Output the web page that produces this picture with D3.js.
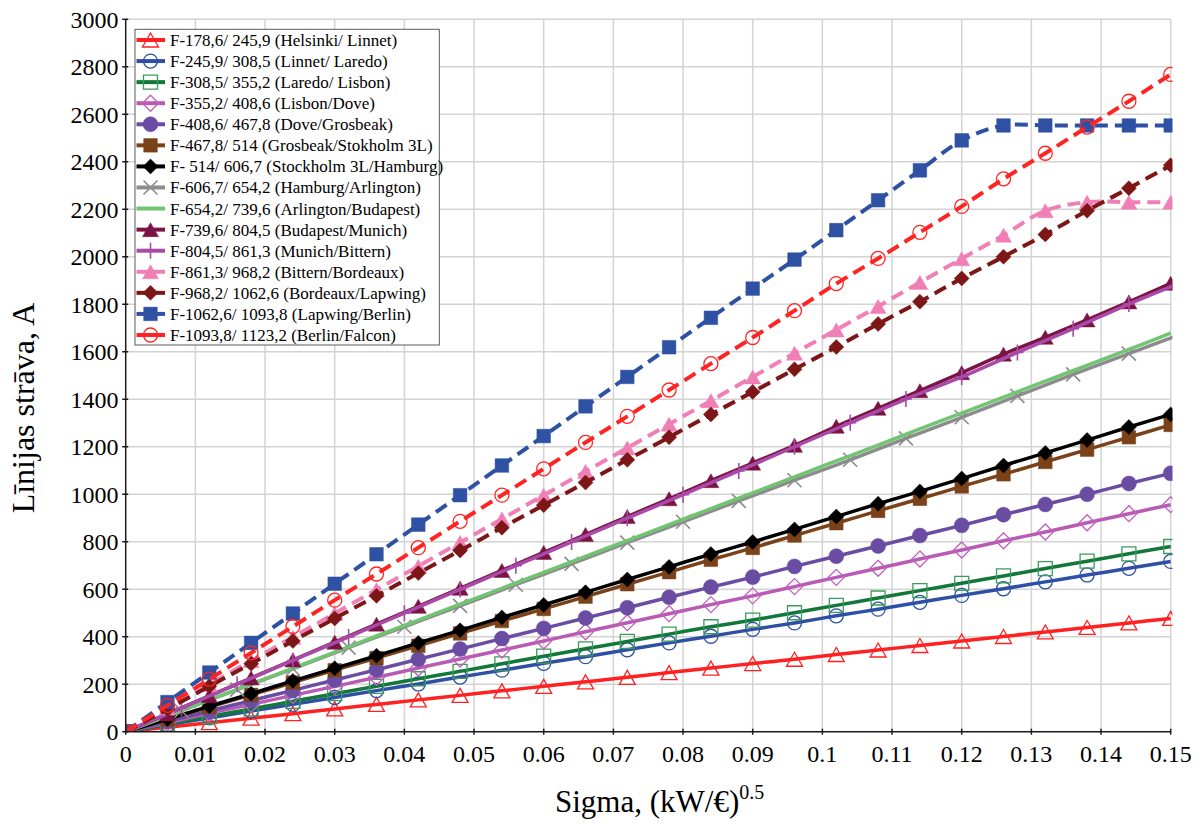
<!DOCTYPE html>
<html><head><meta charset="utf-8">
<script src="https://cdn.jsdelivr.net/npm/d3@7"></script>
<style>
body{margin:0;background:#fff}
svg{display:block}
svg text{font-family:"Liberation Serif",serif;fill:#000}
</style>
</head><body>
<svg id="chart" width="1202" height="824" font-family="Liberation Serif, serif"></svg>
<script>
// ---------------- DATA ----------------
const xTicks = [0,0.01,0.02,0.03,0.04,0.05,0.06,0.07,0.08,0.09,0.1,0.11,0.12,0.13,0.14,0.15];
const yTicks = [0,200,400,600,800,1000,1200,1400,1600,1800,2000,2200,2400,2600,2800,3000];
const xA = [0,0.006,0.012,0.018,0.024,0.03,0.036,0.042,0.048,0.054,0.06,0.066,0.072,0.078,0.084,0.09,0.096,0.102,0.108,0.114,0.12,0.126,0.132,0.138,0.144,0.15];
const xB = [0,0.008,0.016,0.024,0.032,0.04,0.048,0.056,0.064,0.072,0.08,0.088,0.096,0.104,0.112,0.12,0.128,0.136,0.144,0.152];
const seriesNames = [
  "F-178,6/ 245,9 (Helsinki/ Linnet)",
  "F-245,9/ 308,5 (Linnet/ Laredo)",
  "F-308,5/ 355,2 (Laredo/ Lisbon)",
  "F-355,2/ 408,6 (Lisbon/Dove)",
  "F-408,6/ 467,8 (Dove/Grosbeak)",
  "F-467,8/ 514 (Grosbeak/Stokholm 3L)",
  "F- 514/ 606,7 (Stockholm 3L/Hamburg)",
  "F-606,7/ 654,2 (Hamburg/Arlington)",
  "F-654,2/ 739,6 (Arlington/Budapest)",
  "F-739,6/ 804,5 (Budapest/Munich)",
  "F-804,5/ 861,3 (Munich/Bittern)",
  "F-861,3/ 968,2 (Bittern/Bordeaux)",
  "F-968,2/ 1062,6 (Bordeaux/Lapwing)",
  "F-1062,6/ 1093,8 (Lapwing/Berlin)",
  "F-1093,8/ 1123,2 (Berlin/Falcon)"
];
const helsinkiLinnet   = [0,19,38,57,76,96,115,134,153,172,191,210,229,249,268,287,305,325,344,363,382,401,420,439,458,477];
const linnetLaredo     = [0,29,58,87,115,144,173,201,230,259,288,316,345,374,402,431,458,488,516,545,574,602,631,660,688,717];
const laredoLisbon     = [0,32,64,96,128,160,191,223,254,286,318,349,380,411,442,470,501,532,563,594,625,656,687,718,749,780];
const lisbonDove       = [0,38,77,115,153,191,229,268,306,344,382,421,459,497,535,572,611,650,688,727,765,804,841,880,918,956];
const doveGrosbeak     = [0,44,87,131,174,218,261,305,348,392,435,479,522,566,609,651,696,739,782,826,869,914,957,1000,1045,1088];
const grosbeakStokholm = [0,52,104,155,207,259,310,362,414,466,517,569,621,672,724,774,826,878,930,981,1033,1084,1136,1188,1240,1292];
const stockholmHamburg = [0,53,107,160,214,267,320,374,427,481,534,587,641,694,748,799,852,906,960,1012,1066,1121,1174,1228,1283,1336];
const hamburgArlington = [0,88,177,265,354,442,530,619,707,796,884,972,1059,1145,1235,1324,1414,1505,1592,1680];
const arlingtonBudapest= [0,67,134,201,268,335,403,470,537,604,671,738,805,872,939,1006,1073,1140,1207,1275,1342,1409,1476,1543,1610,1678];
const budapestMunich   = [0,75,151,226,302,377,453,528,604,679,755,830,906,981,1057,1131,1206,1286,1362,1436,1512,1590,1661,1734,1810,1888];
const munichBittern    = [0,100,200,300,399,499,599,699,799,899,998,1098,1200,1301,1401,1494,1597,1697,1801,1897];
const bitternBordeaux  = [0,100,199,299,398,498,598,697,797,896,996,1096,1195,1295,1394,1494,1594,1692,1791,1892,1992,2091,2194,2230,2230,2230];
const bordeauxLapwing  = [0,95,191,286,382,477,572,668,763,859,954,1049,1145,1240,1336,1431,1526,1620,1717,1811,1909,2000,2094,2194,2289,2385];
const lapwingBerlin    = [0,125,249,374,498,623,747,872,996,1121,1245,1370,1494,1619,1743,1866,1988,2112,2238,2364,2490,2553,2553,2553,2553,2553];
const berlinFalcon     = [0,111,221,332,443,554,664,775,886,996,1107,1218,1328,1439,1550,1660,1773,1887,1993,2103,2212,2328,2436,2546,2655,2768];

// ---------------- STYLE TABLE ----------------
const seriesTable = [
  {xs:xA, ys:helsinkiLinnet,    color:"#FF2121", mcolor:"#FF2121", dash:false, marker:"triOpen"},
  {xs:xA, ys:linnetLaredo,      color:"#2E50A4", mcolor:"#2E50A4", dash:false, marker:"circOpen"},
  {xs:xA, ys:laredoLisbon,      color:"#12783A", mcolor:"#3C9B5C", dash:false, marker:"sqOpen"},
  {xs:xA, ys:lisbonDove,        color:"#B95BB5", mcolor:"#C060BA", dash:false, marker:"diaOpen"},
  {xs:xA, ys:doveGrosbeak,      color:"#6A4DA2", mcolor:"#6A4DA2", dash:false, marker:"circFill"},
  {xs:xA, ys:grosbeakStokholm,  color:"#7B421A", mcolor:"#7B421A", dash:false, marker:"sqFill"},
  {xs:xA, ys:stockholmHamburg,  color:"#000000", mcolor:"#000000", dash:false, marker:"diaFill"},
  {xs:xB, ys:hamburgArlington,  color:"#8C8C8C", mcolor:"#8C8C8C", dash:false, marker:"x"},
  {xs:xA, ys:arlingtonBudapest, color:"#72C472", mcolor:"#72C472", dash:false, marker:"none"},
  {xs:xA, ys:budapestMunich,    color:"#7B1444", mcolor:"#7B1444", dash:false, marker:"triFill"},
  {xs:xB, ys:munichBittern,     color:"#A94AA9", mcolor:"#A94AA9", dash:false, marker:"plus"},
  {xs:xA, ys:bitternBordeaux,   color:"#F07FB6", mcolor:"#F07FB6", dash:true,  marker:"triFill"},
  {xs:xA, ys:bordeauxLapwing,   color:"#7D1616", mcolor:"#7D1616", dash:true,  marker:"diaFill"},
  {xs:xA, ys:lapwingBerlin,     color:"#2F51A3", mcolor:"#2F51A3", dash:true,  marker:"sqFill"},
  {xs:xA, ys:berlinFalcon,      color:"#FF2424", mcolor:"#FF2424", dash:true,  marker:"circOpen"}
].map((s,i)=>Object.assign(s,{name:seriesNames[i]}));

// ---------------- CHART ----------------
const FONT = "Liberation Serif, serif";
const svg = d3.select("#chart");
const X0 = 125.7, X1 = 1170.7, Y0 = 731.7, Y1 = 19.3;
const x = d3.scaleLinear().domain([0,0.15]).range([X0,X1]);
const y = d3.scaleLinear().domain([0,3000]).range([Y0,Y1]);

svg.append("rect").attr("width",1202).attr("height",824).attr("fill","#fff");

// grid
const grid = svg.append("g");
grid.selectAll("line.v").data(xTicks.filter(d=>d>0)).join("line")
  .attr("x1",d=>x(d)).attr("x2",d=>x(d)).attr("y1",Y0).attr("y2",Y1)
  .attr("stroke","#D3D3D3").attr("stroke-width",1.5);
grid.selectAll("line.h").data(yTicks.filter(d=>d>0)).join("line")
  .attr("x1",X0).attr("x2",X1).attr("y1",d=>y(d)).attr("y2",d=>y(d))
  .attr("stroke","#D3D3D3").attr("stroke-width",1.5);

svg.append("clipPath").attr("id","plotclip").append("rect")
  .attr("x",X0).attr("y",Y1-1).attr("width",1172.5-X0).attr("height",Y0-Y1+1);

function circlePath(r){return `M${r},0A${r},${r} 0 1,1 ${-r},0A${r},${r} 0 1,1 ${r},0Z`;}
function markerPath(type){
  switch(type){
    case "triOpen": case "triFill": return "M0,-7L8,7L-8,7Z";
    case "circOpen": return circlePath(7);
    case "circFill": return circlePath(7.5);
    case "sqOpen": return "M-7,-7H7V7H-7Z";
    case "sqFill": return "M-6.8,-6.8H6.8V6.8H-6.8Z";
    case "diaOpen": return "M0,-8L8,0L0,8L-8,0Z";
    case "diaFill": return "M0,-7.5L7.5,0L0,7.5L-7.5,0Z";
    case "x": return "M-7,-7L7,7M-7,7L7,-7";
    case "plus": return "M0,-8V8M-6,0H6";
  }
  return "";
}
function drawMarker(g, type, color, cx, cy){
  if(type==="none") return;
  const open = ["triOpen","circOpen","sqOpen","diaOpen"].includes(type);
  const stroked = ["x","plus"].includes(type);
  g.append("path").attr("d",markerPath(type)).attr("transform",`translate(${cx},${cy})`)
    .attr("fill", (open||stroked) ? "none" : color)
    .attr("stroke", color)
    .attr("stroke-width", open ? 1.3 : (stroked ? 1.6 : 0.5));
}

const plot = svg.append("g").attr("clip-path","url(#plotclip)");
const line = d3.line().curve(d3.curveCatmullRom.alpha(0.5));
seriesTable.forEach(s=>{
  const pts = s.xs.map((xv,i)=>[x(xv), y(s.ys[i])]);
  const g = plot.append("g");
  g.append("path").attr("d",line(pts)).attr("fill","none")
    .attr("stroke",s.color).attr("stroke-width", s.dash?4:3.5)
    .attr("stroke-dasharray", s.dash?"13,7":null)
    .attr("stroke-linejoin","round");
  pts.forEach(p=>drawMarker(g, s.marker, s.mcolor, p[0], p[1]));
});

// axes
const ax = svg.append("g");
ax.append("line").attr("x1",X0).attr("x2",X0).attr("y1",Y1).attr("y2",Y0).attr("stroke","#1a1a1a").attr("stroke-width",1.5);
ax.append("line").attr("x1",X0).attr("x2",X1).attr("y1",Y0).attr("y2",Y0).attr("stroke","#1a1a1a").attr("stroke-width",1.5);
ax.selectAll("line.yt").data(yTicks).join("line")
  .attr("x1",X0-3.5).attr("x2",X0+2.5).attr("y1",d=>y(d)).attr("y2",d=>y(d))
  .attr("stroke","#1a1a1a").attr("stroke-width",1.5);
ax.selectAll("line.xt").data(xTicks).join("line")
  .attr("x1",d=>x(d)).attr("x2",d=>x(d)).attr("y1",Y0-3).attr("y2",Y0+3)
  .attr("stroke","#1a1a1a").attr("stroke-width",1.5);
ax.selectAll("text.yl").data(yTicks).join("text")
  .attr("x",118.5).attr("y",d=>y(d)).attr("dy","0.35em").attr("font-family",FONT)
  .attr("text-anchor","end").attr("font-size",24).text(d=>d);
ax.selectAll("text.xl").data(xTicks).join("text")
  .attr("x",d=>x(d)).attr("y",762).attr("text-anchor","middle").attr("font-size",24).attr("font-family",FONT)
  .text(d=>d===0?"0":String(+d.toFixed(2)));

// axis titles
const xt = svg.append("text").attr("x",555).attr("y",812).attr("font-size",31).attr("font-family",FONT);
xt.append("tspan").text("Sigma, (kW/€)");
xt.append("tspan").attr("dy",-13).attr("font-size",20).text("0.5");
svg.append("text").attr("transform","translate(34,408) rotate(-90)").attr("font-family",FONT)
  .attr("text-anchor","middle").attr("font-size",32).text("Līnijas strāva, A");

// legend
const lg = svg.append("g");
lg.append("rect").attr("x",135).attr("y",29.3).attr("width",304.3).attr("height",315.7)
  .attr("fill","#fff").attr("stroke","#5a5a5a").attr("stroke-width",1);
seriesTable.forEach((s,i)=>{
  const cy = 40 + i*21.07;
  lg.append("line").attr("x1",136.5).attr("x2",165).attr("y1",cy).attr("y2",cy)
    .attr("stroke",s.color).attr("stroke-width",4);
  drawMarker(lg, s.marker, s.mcolor, 150.5, cy);
  lg.append("text").attr("x",170).attr("y",cy).attr("dy","0.35em").attr("font-size",17).attr("font-family",FONT).text(s.name);
});
</script>
</body></html>
